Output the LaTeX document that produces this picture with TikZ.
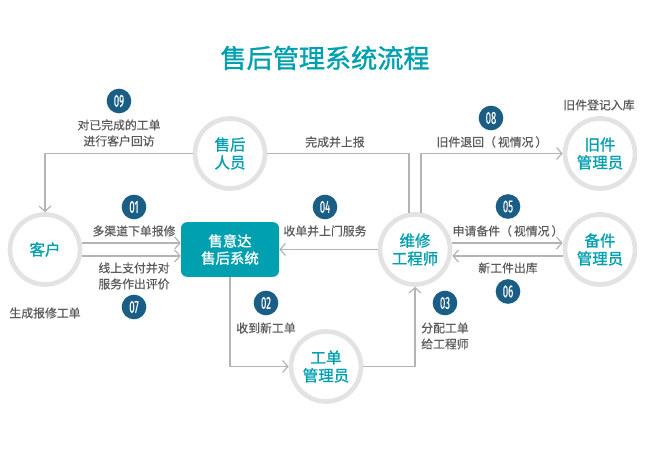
\documentclass[tikz,border=0pt]{standalone}
\usepackage{fontspec}
\usepackage{graphicx}
\setmainfont{Noto Sans CJK SC}
\newfontfamily\heavyfont[FakeBold=1.2]{Noto Sans CJK SC}
\newfontfamily\midfont[FakeBold=0.5]{Noto Sans CJK SC}
\newfontfamily\numfont[FakeBold=0.6]{Fira Sans}
\usetikzlibrary{arrows.meta}
\definecolor{teal1}{HTML}{00A0B0}
\definecolor{navy1}{HTML}{1B5E85}
\definecolor{ring1}{HTML}{E3E3E3}
\definecolor{line1}{HTML}{B4B4B4}
\definecolor{txt1}{HTML}{5A5A5A}
\tikzset{
  role/.style={circle,draw=ring1,line width=3.5pt,fill=white,minimum size=52.5pt,inner sep=0pt,
    text=teal1,align=center,font=\fontsize{11.6}{13.4}\heavyfont},
  sys/.style={rectangle,rounded corners=4.5pt,fill=teal1,text=white,minimum width=73.5pt,minimum height=41pt,
    inner sep=0pt,align=center,font=\fontsize{10.8}{12.8}\heavyfont},
  badge/.style={circle,fill=navy1,text=white,minimum size=18.5pt,inner sep=0pt,font=\fontsize{10}{10}\numfont},
  lbl/.style={text=txt1,align=center,inner sep=0pt,font=\fontsize{8.9}{12}\midfont},
  conn/.style={draw=line1,line width=1.1pt},
  arr/.style={conn,-{Straight Barb[length=4pt,width=9pt,line width=0.9pt]}}
}
\newcommand{\numb}[1]{\scalebox{0.72}[1.3]{#1}}
\begin{document}
\begin{tikzpicture}[x=0.75pt,y=-0.75pt]
\useasboundingbox (0,0) rectangle (650,459);
\node[text=teal1,inner sep=0pt,font=\fontsize{19.6}{22}\heavyfont] (title) at (325,58) {售后管理系统流程};
\node[role] (shouhou) at (230,153.5) {售后\\人员};
\node[role] (kehu) at (45,249.5) {客户};
\node[role] (weixiu) at (415,249.5) {维修\\工程师};
\node[role] (gongdan) at (326,366.5) {工单\\管理员};
\node[role] (jiujian) at (600,153.5) {旧件\\管理员};
\node[role] (beijian) at (600,249.5) {备件\\管理员};
\node[sys] (xitong) at (230,249.5) {售意达\\售后系统};
\draw[arr] (shouhou.west) -| (kehu.north);
\draw[conn] (shouhou.east) -| (weixiu.99);
\draw[arr] (weixiu.81) |- (jiujian.west);
\draw[arr] (kehu.10) -- (kehu.10 -| xitong.west);
\draw[arr] (kehu.-10) -- (kehu.-10 -| xitong.west);
\draw[arr] (weixiu.west) -- (xitong.east);
\draw[arr] (weixiu.10) -- (weixiu.10 -| beijian.west);
\draw[arr] (beijian.190) -- (beijian.190 -| weixiu.east);
\draw[arr] (xitong.south) |- (gongdan.west);
\draw[arr] (gongdan.east) -| (weixiu.south);
\node[badge] (b09) at (119,101) {\numb{09}};
\node[badge] (b01) at (134,207) {\numb{01}};
\node[badge] (b04) at (325,207) {\numb{04}};
\node[badge] (b08) at (491,118) {\numb{08}};
\node[badge] (b05) at (508,206.5) {\numb{05}};
\node[badge] (b06) at (508,291.5) {\numb{06}};
\node[badge] (b02) at (266,303) {\numb{02}};
\node[badge] (b03) at (445,303) {\numb{03}};
\node[badge] (b07) at (134,307) {\numb{07}};
\node[lbl] (t09) at (119,133) {对已完成的工单\\进行客户回访};
\node[lbl] (t01) at (134,231) {多渠道下单报修};
\node[lbl] (t07) at (134,276) {线上支付并对\\服务作出评价};
\node[lbl] (tgen) at (45,313) {生成报修工单};
\node[lbl] (tdone) at (335,142) {完成并上报};
\node[lbl] (t04) at (325,231) {收单并上门服务};
\node[lbl] (t08) at (492,142) {旧件退回（\,视情况\,）};
\node[lbl] (told) at (599,105) {旧件登记入库};
\node[lbl] (t05) at (508,231) {申请备件（\,视情况\,）};
\node[lbl] (t06) at (508,268) {新工件出库};
\node[lbl] (t02) at (266,328) {收到新工单};
\node[lbl] (t03) at (445,336) {分配工单\\给工程师};
\end{tikzpicture}
\end{document}
